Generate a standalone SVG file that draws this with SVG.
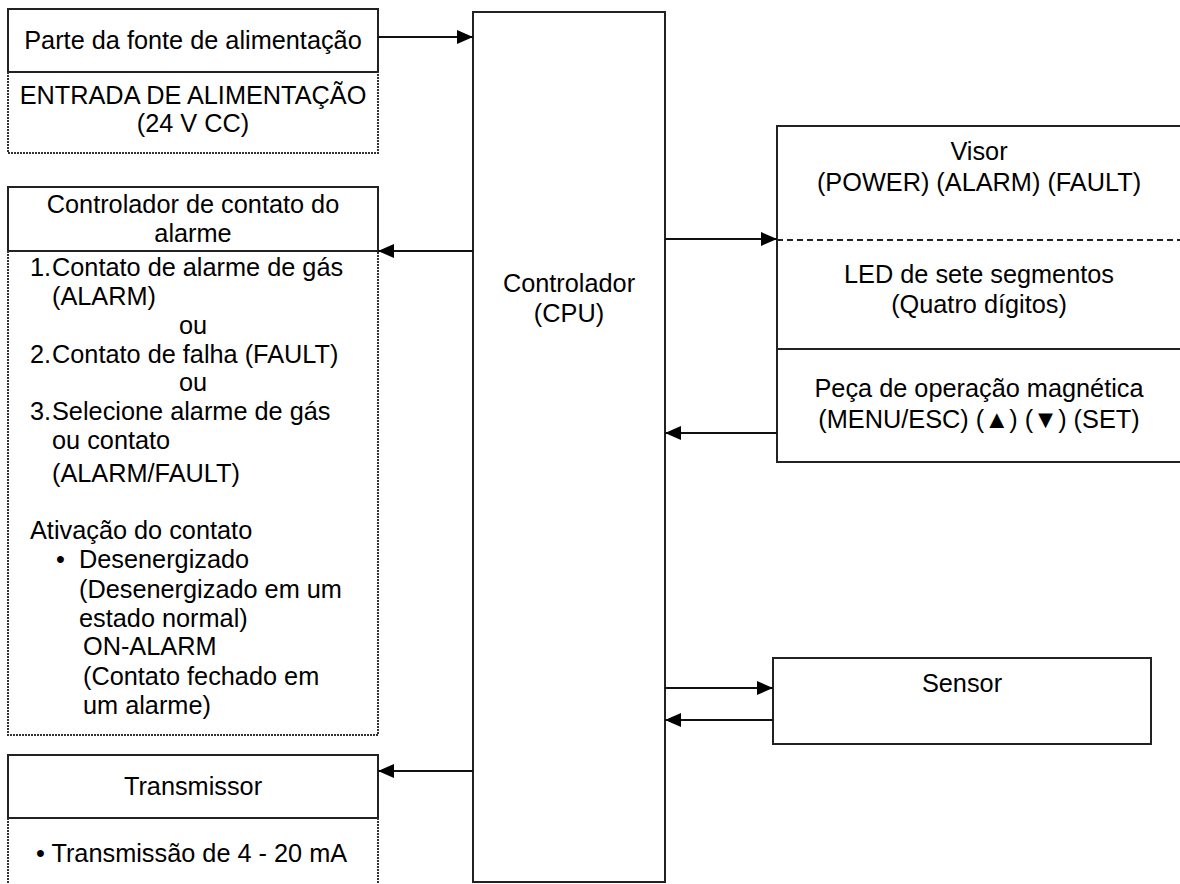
<svg xmlns="http://www.w3.org/2000/svg" width="1180" height="884" viewBox="0 0 1180 884">
<defs>
<style>
.box{fill:none;stroke:#222;stroke-width:2}
.dot{fill:none;stroke:#333;stroke-width:2;stroke-dasharray:2 1}
.dash{fill:none;stroke:#222;stroke-width:1.8;stroke-dasharray:6 4}
.con{fill:none;stroke:#111;stroke-width:2}
text{font-family:"Liberation Sans",Arial,sans-serif;font-size:25.3px;fill:#000}
.c{text-anchor:middle}
</style>
<marker id="ah" viewBox="0 0 16 14" refX="16" refY="7" markerWidth="16" markerHeight="14" markerUnits="userSpaceOnUse" orient="auto">
<path d="M0,0 L16,7 L0,14 Z" fill="#000"/>
</marker>
</defs>
<rect width="1180" height="884" fill="#fff"/>

<g id="power">
<rect class="box" x="8" y="9" width="370" height="63"/>
<path class="dot" d="M8,72 V153 H378 V72"/>
<text class="c" x="193" y="49">Parte da fonte de alimentação</text>
<text class="c" x="193" y="104">ENTRADA DE ALIMENTAÇÃO</text>
<text class="c" x="193" y="132">(24 V CC)</text>
</g>

<g id="alarm">
<rect class="box" x="8" y="187" width="370" height="64"/>
<path class="dot" d="M8,251 V735 H378 V251"/>
<text class="c" x="193" y="213">Controlador de contato do</text>
<text class="c" x="193" y="242">alarme</text>
<text x="30" y="276">1.</text><text x="52" y="276">Contato de alarme de gás</text>
<text x="52" y="305">(ALARM)</text>
<text class="c" x="193" y="334">ou</text>
<text x="30" y="363">2.</text><text x="52" y="363">Contato de falha (FAULT)</text>
<text class="c" x="193" y="391">ou</text>
<text x="30" y="420">3.</text><text x="52" y="420">Selecione alarme de gás</text>
<text x="52" y="449">ou contato</text>
<text x="52" y="482">(ALARM/FAULT)</text>
<text x="30" y="539">Ativação do contato</text>
<text x="56" y="568">•</text><text x="79" y="568">Desenergizado</text>
<text x="79" y="598">(Desenergizado em um</text>
<text x="79" y="627">estado normal)</text>
<text x="83" y="655">ON-ALARM</text>
<text x="83" y="685">(Contato fechado em</text>
<text x="83" y="714">um alarme)</text>
</g>

<g id="transmitter">
<rect class="box" x="8" y="755" width="370" height="63"/>
<path class="dot" d="M8,818 V890 M378,818 V890"/>
<text class="c" x="193" y="795">Transmissor</text>
<text x="36" y="862">• Transmissão de 4 - 20 mA</text>
</g>

<g id="controller">
<rect class="box" x="473" y="12" width="192" height="870"/>
<text class="c" x="569" y="292">Controlador</text>
<text class="c" x="569" y="322">(CPU)</text>
</g>

<g id="display">
<rect class="box" x="777" y="126" width="410" height="336"/>
<line class="dash" x1="777" y1="240" x2="1180" y2="240"/>
<line class="box" x1="777" y1="349" x2="1180" y2="349"/>
<text class="c" x="979" y="160">Visor</text>
<text class="c" x="979" y="191">(POWER) (ALARM) (FAULT)</text>
<text class="c" x="979" y="283">LED de sete segmentos</text>
<text class="c" x="979" y="313">(Quatro dígitos)</text>
<text class="c" x="979" y="397">Peça de operação magnética</text>
<text class="c" x="979" y="428">(MENU/ESC) (▲) (▼) (SET)</text>
</g>

<g id="sensor">
<rect class="box" x="773" y="658" width="378" height="86"/>
<text class="c" x="962" y="692">Sensor</text>
</g>

<g id="connectors">
<line class="con" x1="378" y1="37" x2="473" y2="37" marker-end="url(#ah)"/>
<line class="con" x1="473" y1="251" x2="378" y2="251" marker-end="url(#ah)"/>
<line class="con" x1="473" y1="771" x2="378" y2="771" marker-end="url(#ah)"/>
<line class="con" x1="665" y1="239" x2="777" y2="239" marker-end="url(#ah)"/>
<line class="con" x1="777" y1="433" x2="665" y2="433" marker-end="url(#ah)"/>
<line class="con" x1="665" y1="688" x2="773" y2="688" marker-end="url(#ah)"/>
<line class="con" x1="773" y1="720" x2="665" y2="720" marker-end="url(#ah)"/>
</g>
</svg>
